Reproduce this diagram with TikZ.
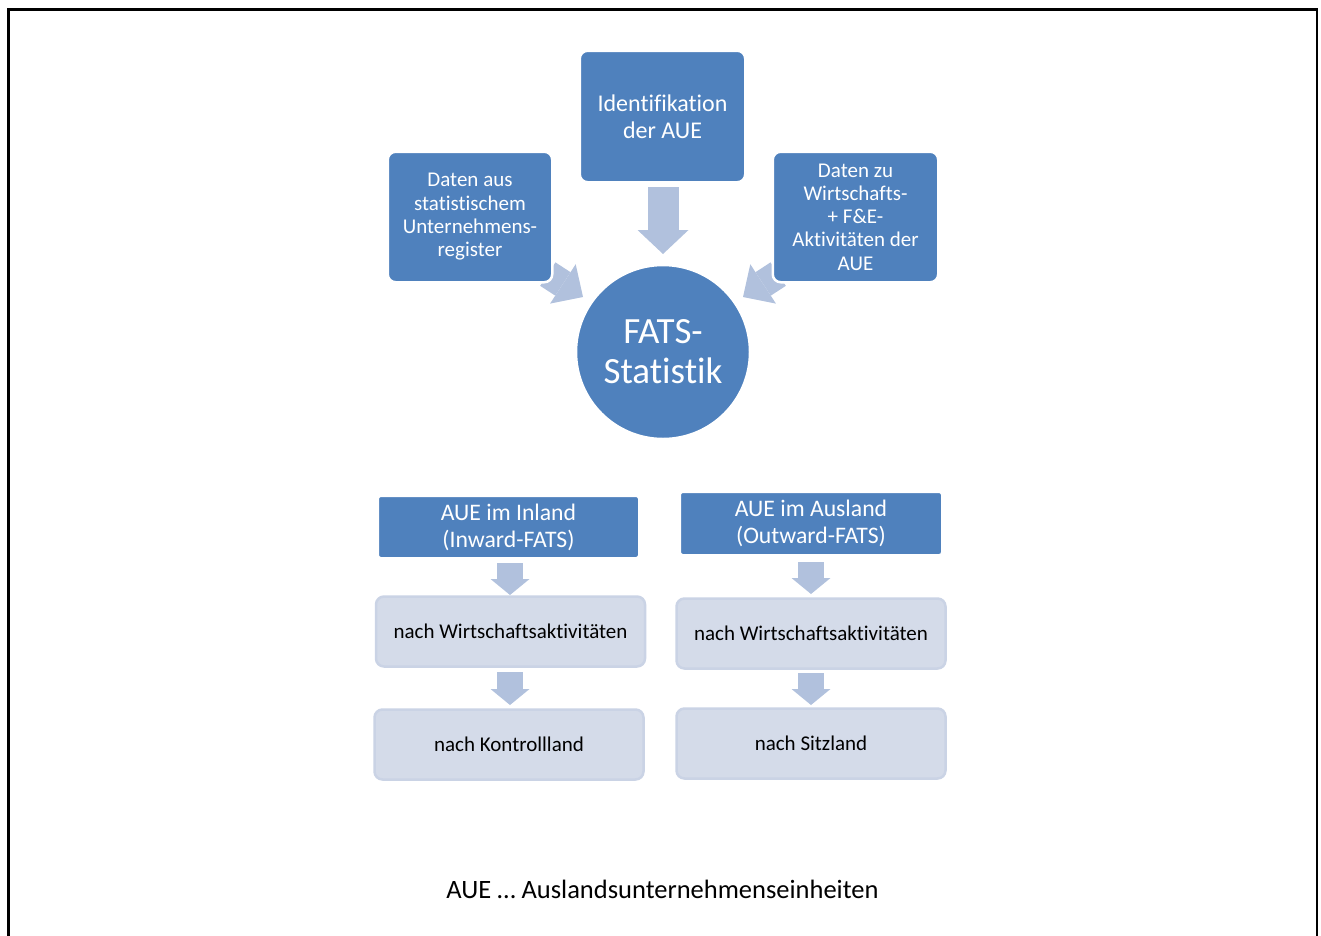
\documentclass[tikz,border=0pt]{standalone}
\usepackage{fontspec}
\setmainfont{Carlito}[Ligatures={NoCommon}]
\usetikzlibrary{arrows.meta}
\pgfdeclarelayer{background}
\pgfsetlayers{background,main}
\definecolor{darkbox}{RGB}{79,129,189}
\definecolor{arrowcol}{RGB}{177,193,221}
\definecolor{lightbox}{RGB}{212,219,233}
\definecolor{lightedge}{RGB}{202,211,229}
\tikzset{
  darkstyle/.style={fill=darkbox, draw=white, line width=2.5pt, text=white, rounded corners=8pt, inner sep=0pt, align=center},
  lightstyle/.style={fill=lightbox, draw=lightedge, line width=2.5pt, text=black, rounded corners=8pt, inner sep=0pt, align=center,
    minimum width=269pt, minimum height=70pt, font=\fontsize{21}{24}\selectfont},
  bigarrow/.style={draw=arrowcol, line width=31pt, -{Triangle[length=24pt, width=51pt, line width=0pt]}},
  diagarrow/.style={draw=arrowcol, line width=28pt, -{Triangle[length=24pt, width=47pt, line width=0pt]}},
  smallarrow/.style={draw=arrowcol, line width=26.7pt, -{Triangle[length=16pt, width=39pt, line width=0pt]}},
}
\begin{document}
\begin{tikzpicture}[x=1pt,y=-1pt]
\useasboundingbox (0,0) rectangle (1321,935);
% frame
\draw[line width=2.7pt] (8.7,936) -- (8.7,9.5) -- (1317,9.5) -- (1317,936);

% nodes
\node[darkstyle, minimum width=165.5pt, minimum height=131.5pt, font=\fontsize{24}{27}\selectfont] (id) at (662.5,116.5) {Identifikation\\der AUE};
\node[darkstyle, minimum width=164.5pt, minimum height=130.5pt, font=\fontsize{21}{23.3}\selectfont] (reg) at (470,217) {Daten aus\\statistischem\\Unternehmens-\\register};
\node[darkstyle, minimum width=165.5pt, minimum height=130.5pt, font=\fontsize{21}{23.3}\selectfont] (wirt) at (855.5,217) {Daten zu\\Wirtschafts-\\+ F\&E-\\Aktivitäten der\\AUE};
\node[darkstyle, circle, minimum size=174pt, font=\fontsize{37}{40}\selectfont] (fats) at (663,352) {FATS-\\Statistik};

\node[darkstyle, rounded corners=3pt, minimum width=261.5pt, minimum height=62.5pt, font=\fontsize{23.7}{27}\selectfont] (in) at (508.5,527) {AUE im Inland\\(Inward-FATS)};
\node[darkstyle, rounded corners=3pt, minimum width=262.5pt, minimum height=63.5pt, font=\fontsize{23.7}{27}\selectfont] (aus) at (811,523.5) {AUE im Ausland\\(Outward-FATS)};

\node[lightstyle] (in1) at (510.5,631.5) {nach Wirtschaftsaktivitäten};
\node[lightstyle] (in2) at (509,744.5) {nach Kontrollland};
\node[lightstyle] (aus1) at (811,633.5) {nach Wirtschaftsaktivitäten};
\node[lightstyle] (aus2) at (811,743.5) {nach Sitzland};

\node[font=\fontsize{26.5}{30}\selectfont, inner sep=0pt] (note) at (662.5,889) {AUE … Auslandsunternehmenseinheiten};

% arrow end points
\coordinate (sMid) at (663,187);   \coordinate (tMid) at (663,254);
\coordinate (sL) at (547.8,274.1); \coordinate (tL) at (583,297);
\coordinate (sR) at (778.2,274.1); \coordinate (tR) at (743,297);
\coordinate (sIn1) at (510,563);   \coordinate (tIn1) at (510,595);
\coordinate (sIn2) at (510,672);   \coordinate (tIn2) at (510,705);
\coordinate (sAus1) at (811,562);  \coordinate (tAus1) at (811,594);
\coordinate (sAus2) at (811,673);  \coordinate (tAus2) at (811,705);

\begin{pgfonlayer}{background}
\draw[bigarrow] (sMid) -- (tMid);
\draw[diagarrow] (sL) -- (tL);
\draw[diagarrow] (sR) -- (tR);
\draw[smallarrow] (sIn1) -- (tIn1);
\draw[smallarrow] (sIn2) -- (tIn2);
\draw[smallarrow] (sAus1) -- (tAus1);
\draw[smallarrow] (sAus2) -- (tAus2);
\end{pgfonlayer}
\end{tikzpicture}
\end{document}
